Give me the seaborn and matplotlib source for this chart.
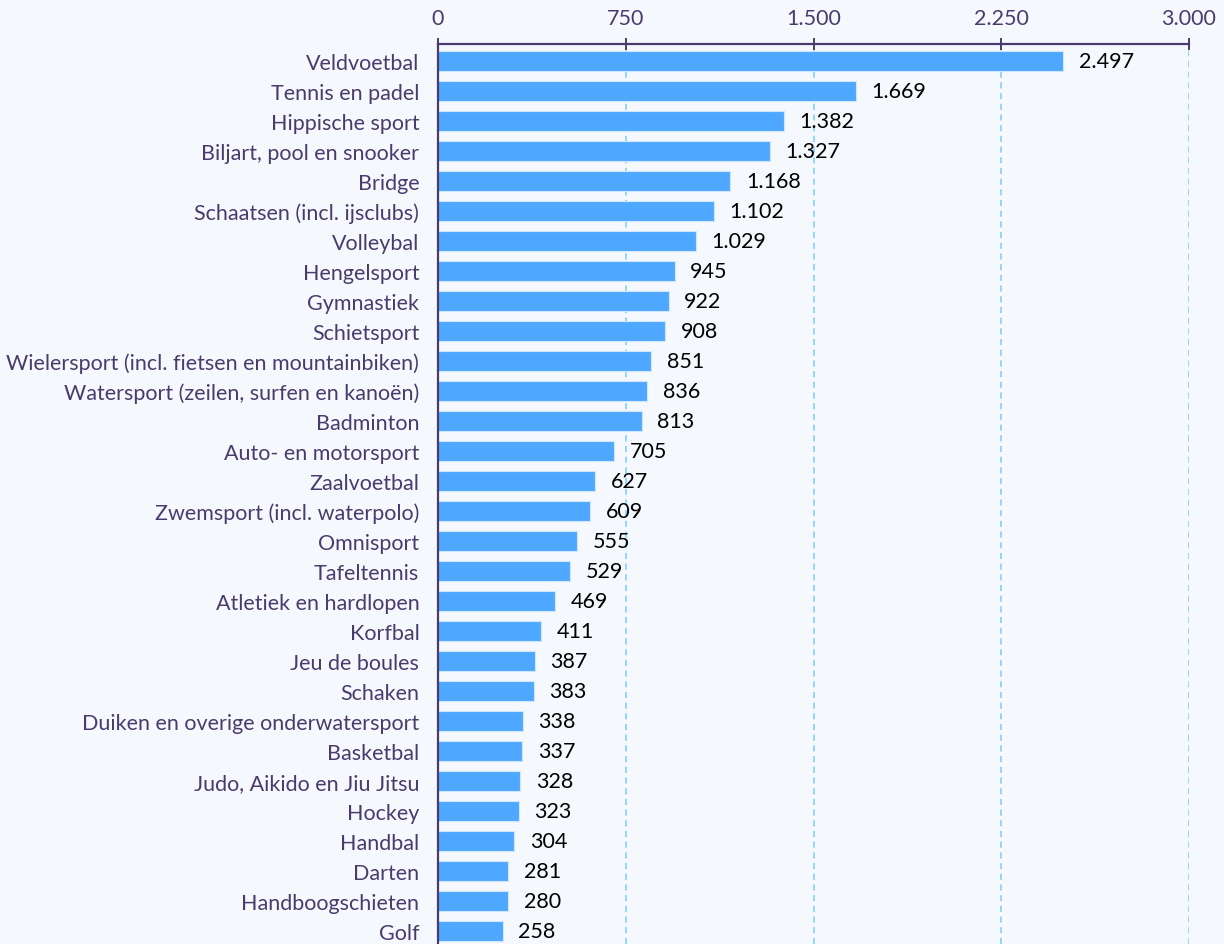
import matplotlib
matplotlib.use("Agg")
import matplotlib.pyplot as plt
import pandas as pd
import seaborn as sns
from matplotlib.ticker import FuncFormatter

sports = [
    "Veldvoetbal", "Tennis en padel", "Hippische sport", "Biljart, pool en snooker",
    "Bridge", "Schaatsen (incl. ijsclubs)", "Volleybal", "Hengelsport", "Gymnastiek",
    "Schietsport", "Wielersport (incl. fietsen en mountainbiken)",
    "Watersport (zeilen, surfen en kanoën)", "Badminton", "Auto- en motorsport",
    "Zaalvoetbal", "Zwemsport (incl. waterpolo)", "Omnisport", "Tafeltennis",
    "Atletiek en hardlopen", "Korfbal", "Jeu de boules", "Schaken",
    "Duiken en overige onderwatersport", "Basketbal", "Judo, Aikido en Jiu Jitsu",
    "Hockey", "Handbal", "Darten", "Handboogschieten", "Golf",
]
counts = [
    2497, 1669, 1382, 1327, 1168, 1102, 1029, 945, 922, 908, 851, 836, 813, 705,
    627, 609, 555, 529, 469, 411, 387, 383, 338, 337, 328, 323, 304, 281, 280, 258,
]
x_ticks = [0, 750, 1500, 2250, 3000]

BG = "#f5f8fd"
BAR = "#4fa8ff"
PURPLE = "#4b3b6c"
GRID = "#7ccbff"


def nl_fmt(v, _pos=None):
    return f"{int(round(v)):,}".replace(",", ".")


df = pd.DataFrame({"sport": sports, "count": counts})

sns.set_style("white")
plt.rcParams["font.family"] = ["Lato", "DejaVu Sans"]

fig = plt.figure(figsize=(12.24, 9.45), dpi=100, facecolor=BG)
ax = fig.add_axes([438 / 1224, 0.0, (1189 - 438) / 1224, 1 - 45 / 945])
ax.set_facecolor(BG)

sns.barplot(data=df, x="count", y="sport", orient="h", color=BAR,
            saturation=1, width=0.68, edgecolor="#cfe6ff", linewidth=0.8, ax=ax)

ax.set_xlim(0, 3000)
ax.set_ylim(len(sports) - 0.57, -0.57)
ax.set_xticks(x_ticks)
ax.xaxis.set_major_formatter(FuncFormatter(nl_fmt))
ax.xaxis.tick_top()
ax.set_xlabel("")
ax.set_ylabel("")

for x in x_ticks[1:]:
    ax.axvline(x, color=GRID, lw=1.1, ls=(0, (4, 3)), zorder=0)

for i, v in enumerate(counts):
    ax.text(v + 62, i, nl_fmt(v), va="center", ha="left", fontsize=15.5, color="black")

for side in ["right", "bottom"]:
    ax.spines[side].set_visible(False)
for side in ["top", "left"]:
    ax.spines[side].set_color(PURPLE)
    ax.spines[side].set_linewidth(1.6)

ax.tick_params(axis="x", top=True, bottom=False, direction="inout", length=9,
               width=1.4, color=PURPLE, labelcolor=PURPLE, labelsize=15.5, pad=7)
ax.tick_params(axis="y", left=False, labelcolor=PURPLE, labelsize=15.5, pad=10)

fig.savefig("out.png", dpi=100, facecolor=BG)
